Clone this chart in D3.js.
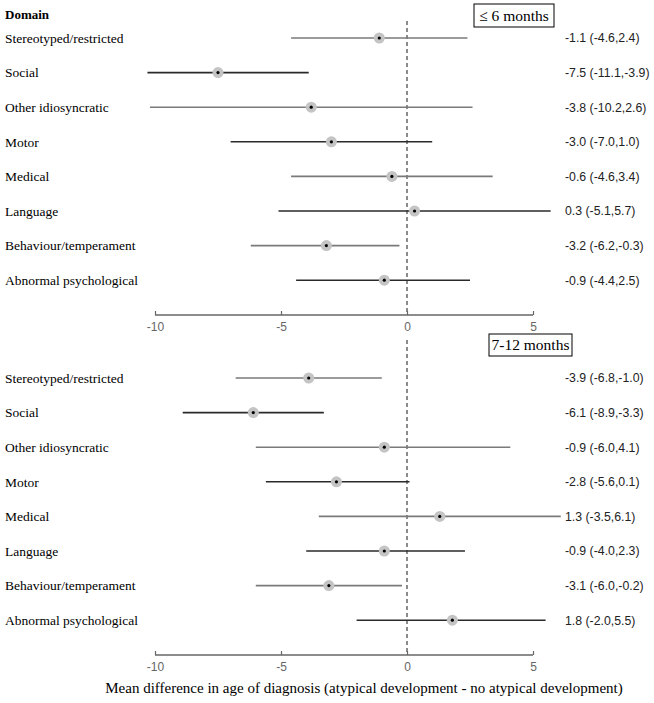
<!DOCTYPE html>
<html>
<head>
<meta charset="utf-8">
<script src="https://cdn.jsdelivr.net/npm/d3@7"></script>
<style>
  body { margin: 0; background: #fff; }
</style>
</head>
<body>
<div id="forest"></div>
<script>
(function () {
    /* ----------------------- Data ----------------------- */
    const domains = ["Stereotyped/restricted", "Social", "Other idiosyncratic", "Motor",
        "Medical", "Language", "Behaviour/temperament", "Abnormal psychological"];

    const mean6 = [-1.1, -7.5, -3.8, -3.0, -0.6, 0.3, -3.2, -0.9];
    const lower6 = [-4.6, -11.1, -10.2, -7.0, -4.6, -5.1, -6.2, -4.4];
    const upper6 = [2.4, -3.9, 2.6, 1.0, 3.4, 5.7, -0.3, 2.5];

    const mean12 = [-3.9, -6.1, -0.9, -2.8, 1.3, -0.9, -3.1, 1.8];
    const lower12 = [-6.8, -8.9, -6.0, -5.6, -3.5, -4.0, -6.0, -2.0];
    const upper12 = [-1.0, -3.3, 4.1, 0.1, 6.1, 2.3, -0.2, 5.5];

    const axisTicks = [-10, -5, 0, 5];
    const panelTitles = ["\u2264 6 months", "7-12 months"];

    const SERIF = "'Liberation Serif', 'DejaVu Serif', serif";
    const SANS = "'Liberation Sans', Arial, sans-serif";

    /* ----------------------- Dimensions ----------------------- */
    const width = 654, height = 703;
    const svg = d3.select("#forest").append("svg")
        .attr("width", width).attr("height", height);

    const x = d3.scaleLinear().domain([-10, 5]).range([155, 533]);
    const clipLeft = x(-10.3);

    svg.append("defs").append("clipPath").attr("id", "plotClip")
        .append("rect").attr("x", clipLeft).attr("y", 0)
        .attr("width", width - clipLeft).attr("height", height);

    const fmt = v => v.toFixed(1);

    const panels = [
        { mean: mean6, lo: lower6, hi: upper6, top: 21, rowTop: 38, axisY: 315,
          title: panelTitles[0], box: [474, 4, 80, 23] },
        { mean: mean12, lo: lower12, hi: upper12, top: 340, rowTop: 378, axisY: 655,
          title: panelTitles[1], box: [489, 334, 83, 22] }
    ];

    svg.append("text")
        .attr("font-family", SERIF)
        .attr("x", 5).attr("y", 19)
        .attr("font-size", 13).attr("font-weight", "bold")
        .text("Domain");

    panels.forEach(function (p) {
        const rows = domains.map((d, i) => ({ name: d, mean: p.mean[i], lo: p.lo[i], hi: p.hi[i], i: i }));
        const y = d3.scalePoint().domain(domains)
            .range([p.rowTop, p.rowTop + 34.6 * (domains.length - 1)]);

        const g = svg.append("g");

        // reference line at 0
        g.append("line")
            .attr("x1", x(0)).attr("x2", x(0))
            .attr("y1", p.top).attr("y2", p.axisY)
            .attr("stroke", "#666").attr("stroke-width", 1.5)
            .attr("stroke-dasharray", "4,3");

        // confidence intervals
        g.append("g").attr("clip-path", "url(#plotClip)")
            .selectAll("line").data(rows).enter().append("line")
            .attr("x1", d => x(d.lo)).attr("x2", d => x(d.hi))
            .attr("y1", d => y(d.name)).attr("y2", d => y(d.name))
            .attr("stroke", d => d.i % 2 === 0 ? "#7a7a7a" : "#2a2a2a")
            .attr("stroke-width", 1.6);

        g.selectAll("circle.pt").data(rows).enter().append("circle")
            .attr("class", "pt")
            .attr("cx", d => x(d.mean)).attr("cy", d => y(d.name))
            .attr("r", 5.5).attr("fill", "#c4c4c4");

        g.selectAll("circle.dot").data(rows).enter().append("circle")
            .attr("class", "dot")
            .attr("cx", d => x(d.mean)).attr("cy", d => y(d.name))
            .attr("r", 1.6).attr("fill", "#000");

        // domain labels
        g.selectAll("text.lab").data(rows).enter().append("text")
            .attr("class", "lab").attr("font-family", SERIF)
            .attr("x", 5).attr("y", d => y(d.name)).attr("dy", "0.35em")
            .attr("font-size", 13.5).attr("fill", "#000")
            .text(d => d.name);

        // estimate labels
        g.selectAll("text.est").data(rows).enter().append("text")
            .attr("class", "est").attr("font-family", SANS)
            .attr("x", 565).attr("y", d => y(d.name)).attr("dy", "0.35em")
            .attr("font-size", 12.3).attr("fill", "#222")
            .text(d => `${fmt(d.mean)} (${fmt(d.lo)},${fmt(d.hi)})`);

        // axis
        const axis = g.append("g")
            .attr("transform", `translate(0,${p.axisY})`)
            .call(d3.axisBottom(x).tickValues(axisTicks).tickFormat(d => String(d))
                .tickSize(4).tickSizeOuter(0).tickPadding(3));
        axis.select(".domain").attr("stroke", "#666").attr("stroke-width", 1.5)
            .attr("d", `M${x(-10)},0H${x(5)}`);
        axis.selectAll(".tick line").attr("stroke", "#666").attr("y2", -4).attr("stroke-width", 1.2);
        axis.selectAll(".tick text")
            .attr("font-family", SANS)
            .attr("font-size", 12).attr("fill", "#666");

        // panel title box
        g.append("rect")
            .attr("x", p.box[0]).attr("y", p.box[1])
            .attr("width", p.box[2]).attr("height", p.box[3])
            .attr("fill", "#fff").attr("stroke", "#000").attr("stroke-width", 1);
        g.append("text").attr("font-family", SERIF)
            .attr("x", p.box[0] + p.box[2] / 2).attr("y", p.box[1] + p.box[3] / 2)
            .attr("dy", "0.35em").attr("text-anchor", "middle")
            .attr("font-size", 15.5).attr("fill", "#000")
            .text(p.title);
    });

    svg.append("text").attr("font-family", SERIF)
        .attr("x", 364).attr("y", 693).attr("text-anchor", "middle")
        .attr("font-size", 15).attr("fill", "#000")
        .text("Mean difference in age of diagnosis (atypical development - no atypical development)");
})();
</script>
</body>
</html>
